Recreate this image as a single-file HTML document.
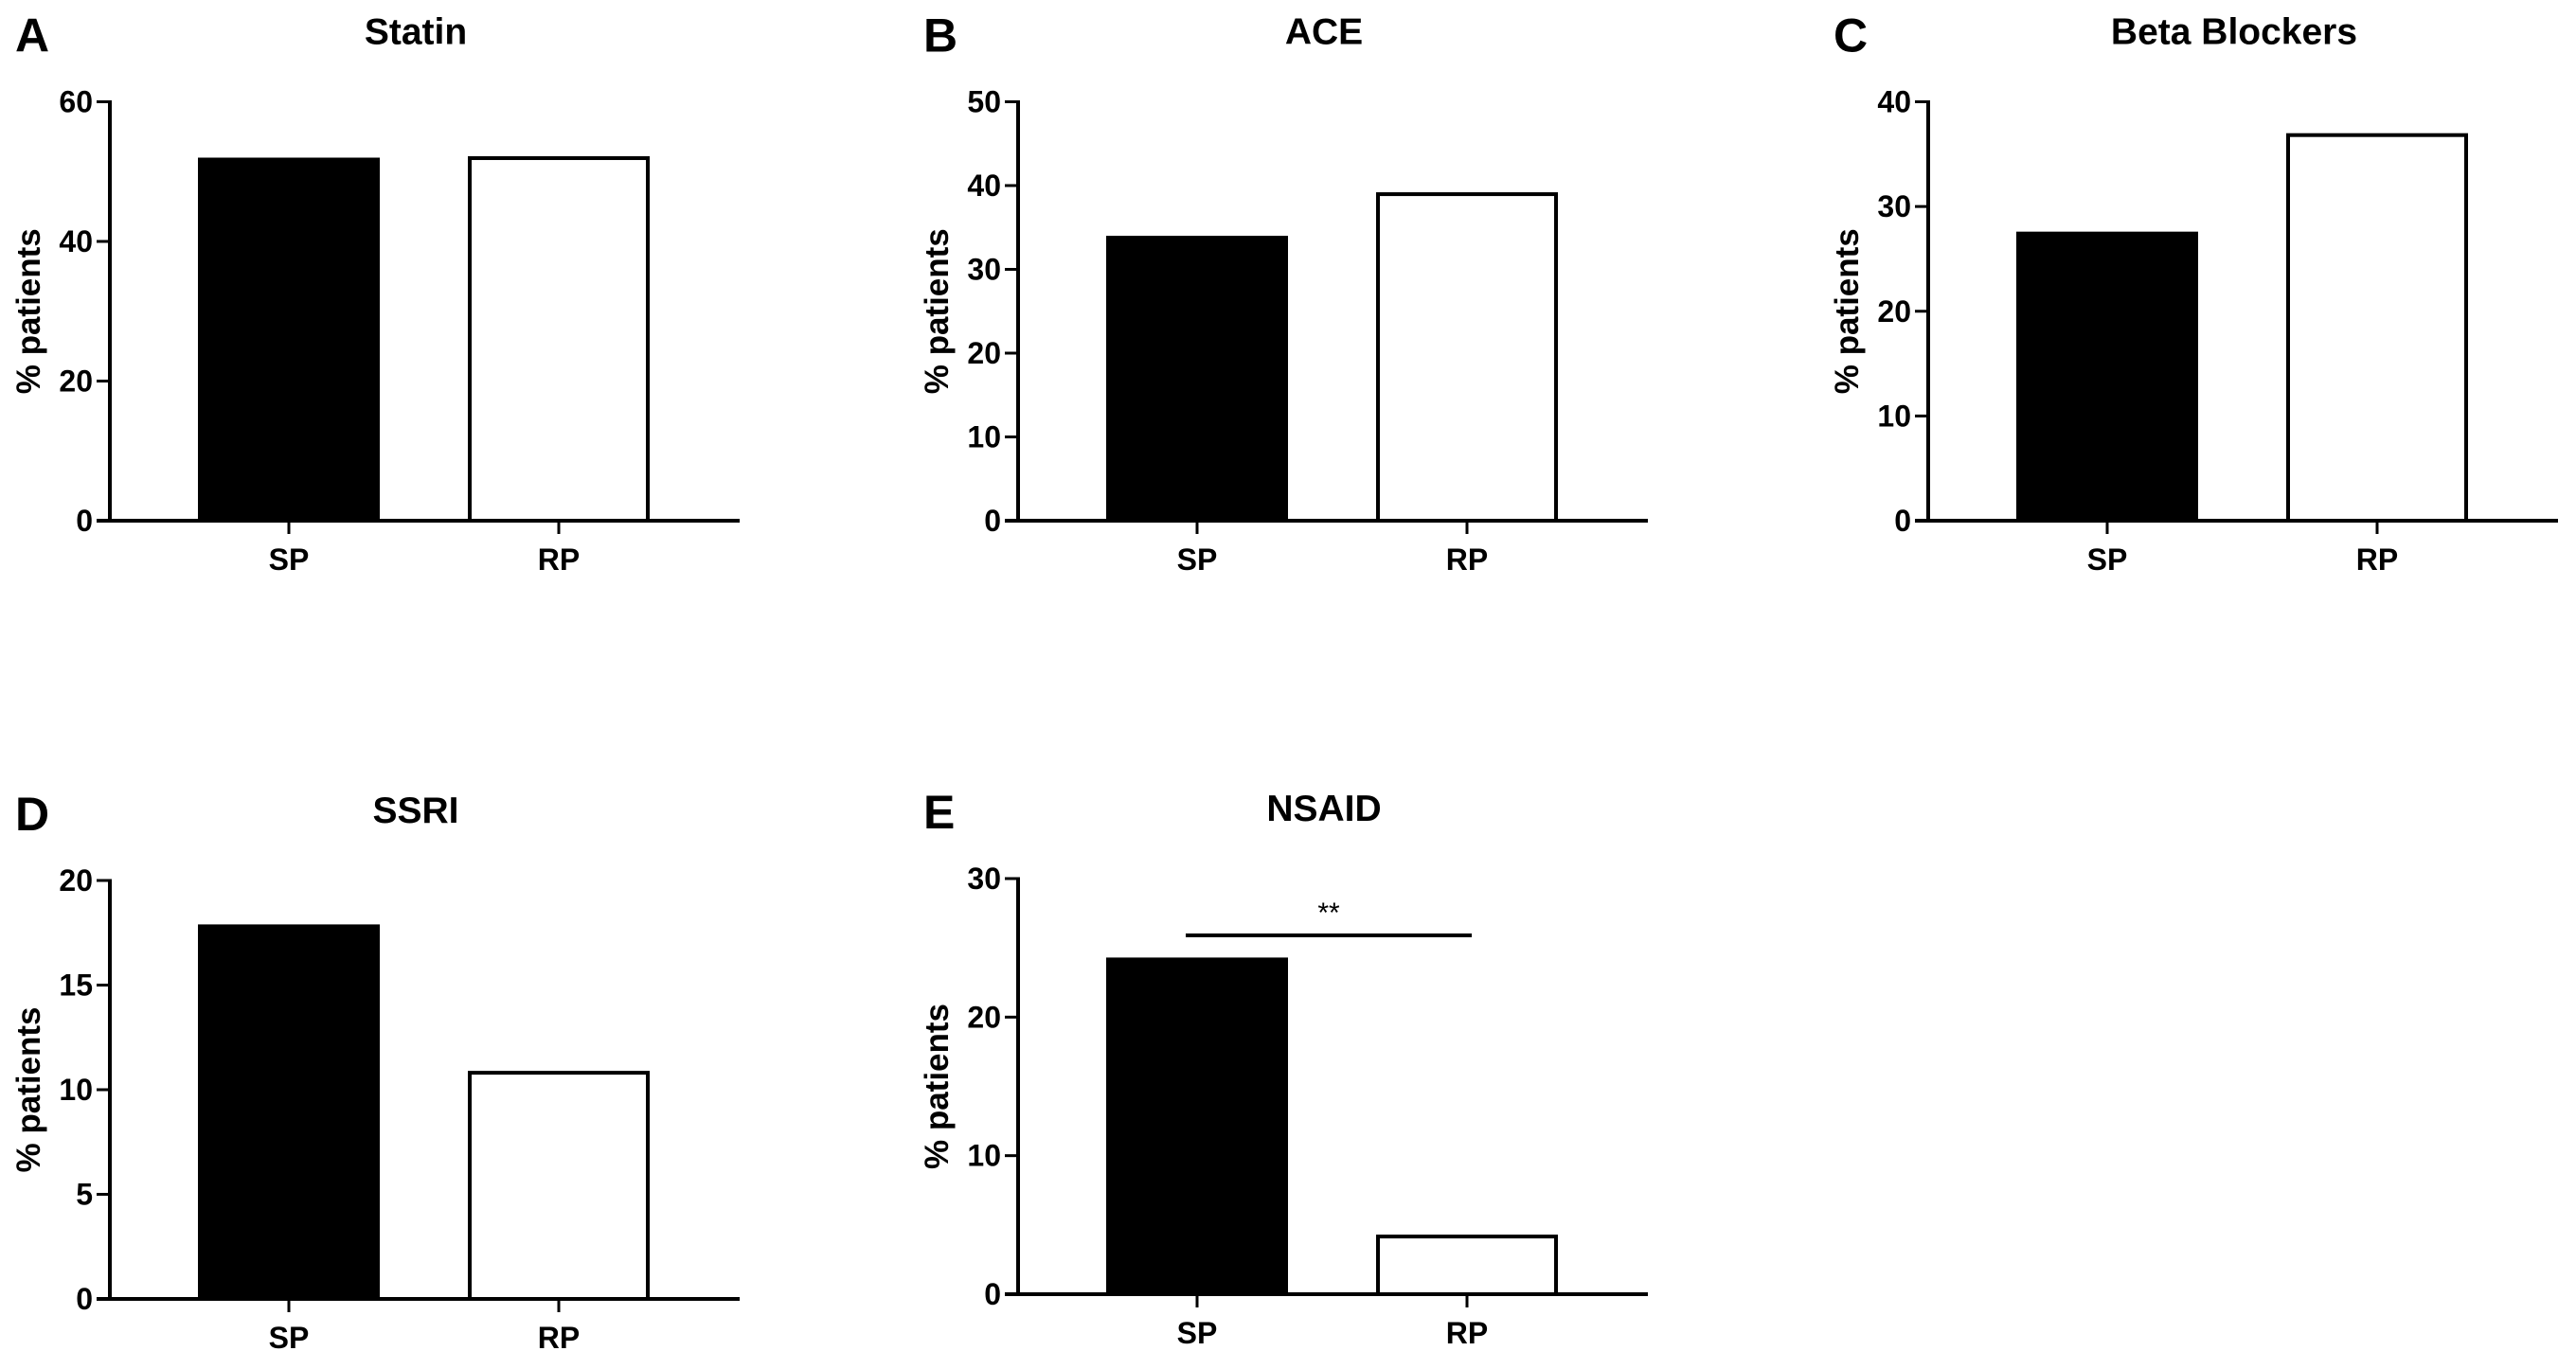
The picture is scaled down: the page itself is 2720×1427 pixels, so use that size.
<!DOCTYPE html>
<html><head><meta charset="utf-8"><style>
html,body{margin:0;padding:0;background:#fff;}
svg{display:block;font-family:"Liberation Sans",Arial,sans-serif;font-weight:bold;}
</style></head><body>
<svg id="fig" width="2720" height="1427" viewBox="0 0 2720 1427"></svg>
<script>
const panelLetters = ["A","B","C","D","E"];
const panelTitles = ["Statin","ACE","Beta Blockers","SSRI","NSAID"];
const categories = ["SP","RP"];
const statinValues = [52.0, 52.2];
const aceValues = [34.0, 39.2];
const betaValues = [27.6, 37.0];
const ssriValues = [17.9, 10.9];
const nsaidValues = [24.3, 4.3];
const statinTicks = [0,20,40,60];
const aceTicks = [0,10,20,30,40,50];
const betaTicks = [0,10,20,30,40];
const ssriTicks = [0,5,10,15,20];
const nsaidTicks = [0,10,20,30];
const nsaidSignif = [25.9];

const NS="http://www.w3.org/2000/svg";
const svg=document.getElementById('fig');
function mk(tag,attrs,parent){const e=document.createElementNS(NS,tag);for(const k in attrs)e.setAttribute(k,attrs[k]);(parent||svg).appendChild(e);return e;}

const layouts=[
 {ax:116,top:107.5,zero:550},
 {ax:1075,top:107.5,zero:550},
 {ax:2036,top:107.5,zero:550},
 {ax:116,top:930,zero:1372},
 {ax:1075,top:928,zero:1367}
];
const allVals=[statinValues,aceValues,betaValues,ssriValues,nsaidValues];
const allTicks=[statinTicks,aceTicks,betaTicks,ssriTicks,nsaidTicks];

for(let p=0;p<5;p++){
  const L=layouts[p],vals=allVals[p],ticks=allTicks[p];
  const g=mk('g',{});
  
  
  const ymax=ticks[ticks.length-1];
  const y=v=>L.zero-(v/ymax)*(L.zero-L.top);
  const xc=[L.ax+189,L.ax+474];
  const bw=192;
  const lt=mk('text',{x:L.ax-100,y:L.top-53,'font-size':50},g);lt.textContent=panelLetters[p];
  
  
  const tt=mk('text',{x:L.ax+323,y:L.top-61,'font-size':39,'text-anchor':'middle'},g);tt.textContent=panelTitles[p];
  
  
  for(let i=0;i<2;i++){
    const top=y(vals[i]);
    const r=mk('rect',{x:xc[i]-bw/2+(i?2:0),y:top+(i?2:0),width:bw-(i?4:0),height:L.zero-top-(i?2:0),fill:i?'#fff':'#000',stroke:'#000','stroke-width':i?4:0},g);
    
    
    const tk=mk('line',{x1:xc[i],x2:xc[i],y1:L.zero,y2:L.zero+14,stroke:'#000','stroke-width':3},g);
    
    
    const cl=mk('text',{x:xc[i],y:L.zero+52,'font-size':32,'text-anchor':'middle'},g);cl.textContent=categories[i];
    
    
  }
  const ya=mk('line',{x1:L.ax,x2:L.ax,y1:L.top-1.5,y2:L.zero+1.5,stroke:'#000','stroke-width':4},g);
  
  
  const xa=mk('line',{x1:L.ax-14,x2:L.ax+665,y1:L.zero,y2:L.zero,stroke:'#000','stroke-width':4},g);
  
  
  for(const t of ticks){
    const ty=y(t);
    const tl=mk('line',{x1:L.ax-14,x2:L.ax,y1:ty,y2:ty,stroke:'#000','stroke-width':3},g);
    
    
    const tx=mk('text',{x:L.ax-18,y:ty+11,'font-size':32,'text-anchor':'end'},g);tx.textContent=t;
    
    
  }
  const yl=mk('text',{x:0,y:0,'font-size':35,'text-anchor':'middle',transform:`translate(${L.ax-74},${(L.top+L.zero)/2}) rotate(-90)`},g);
  yl.textContent='% patients';
  
  
  if(p===4){
    const sy=y(nsaidSignif[0]);
    const sl=mk('line',{x1:L.ax+177,x2:L.ax+479,y1:sy,y2:sy,stroke:'#000','stroke-width':4},g);
    
    
    const st=mk('text',{x:L.ax+328,y:sy-14,'font-size':30,'font-weight':'normal','text-anchor':'middle'},g);st.textContent='**';
    
    
  }
}
</script>
</body></html>
